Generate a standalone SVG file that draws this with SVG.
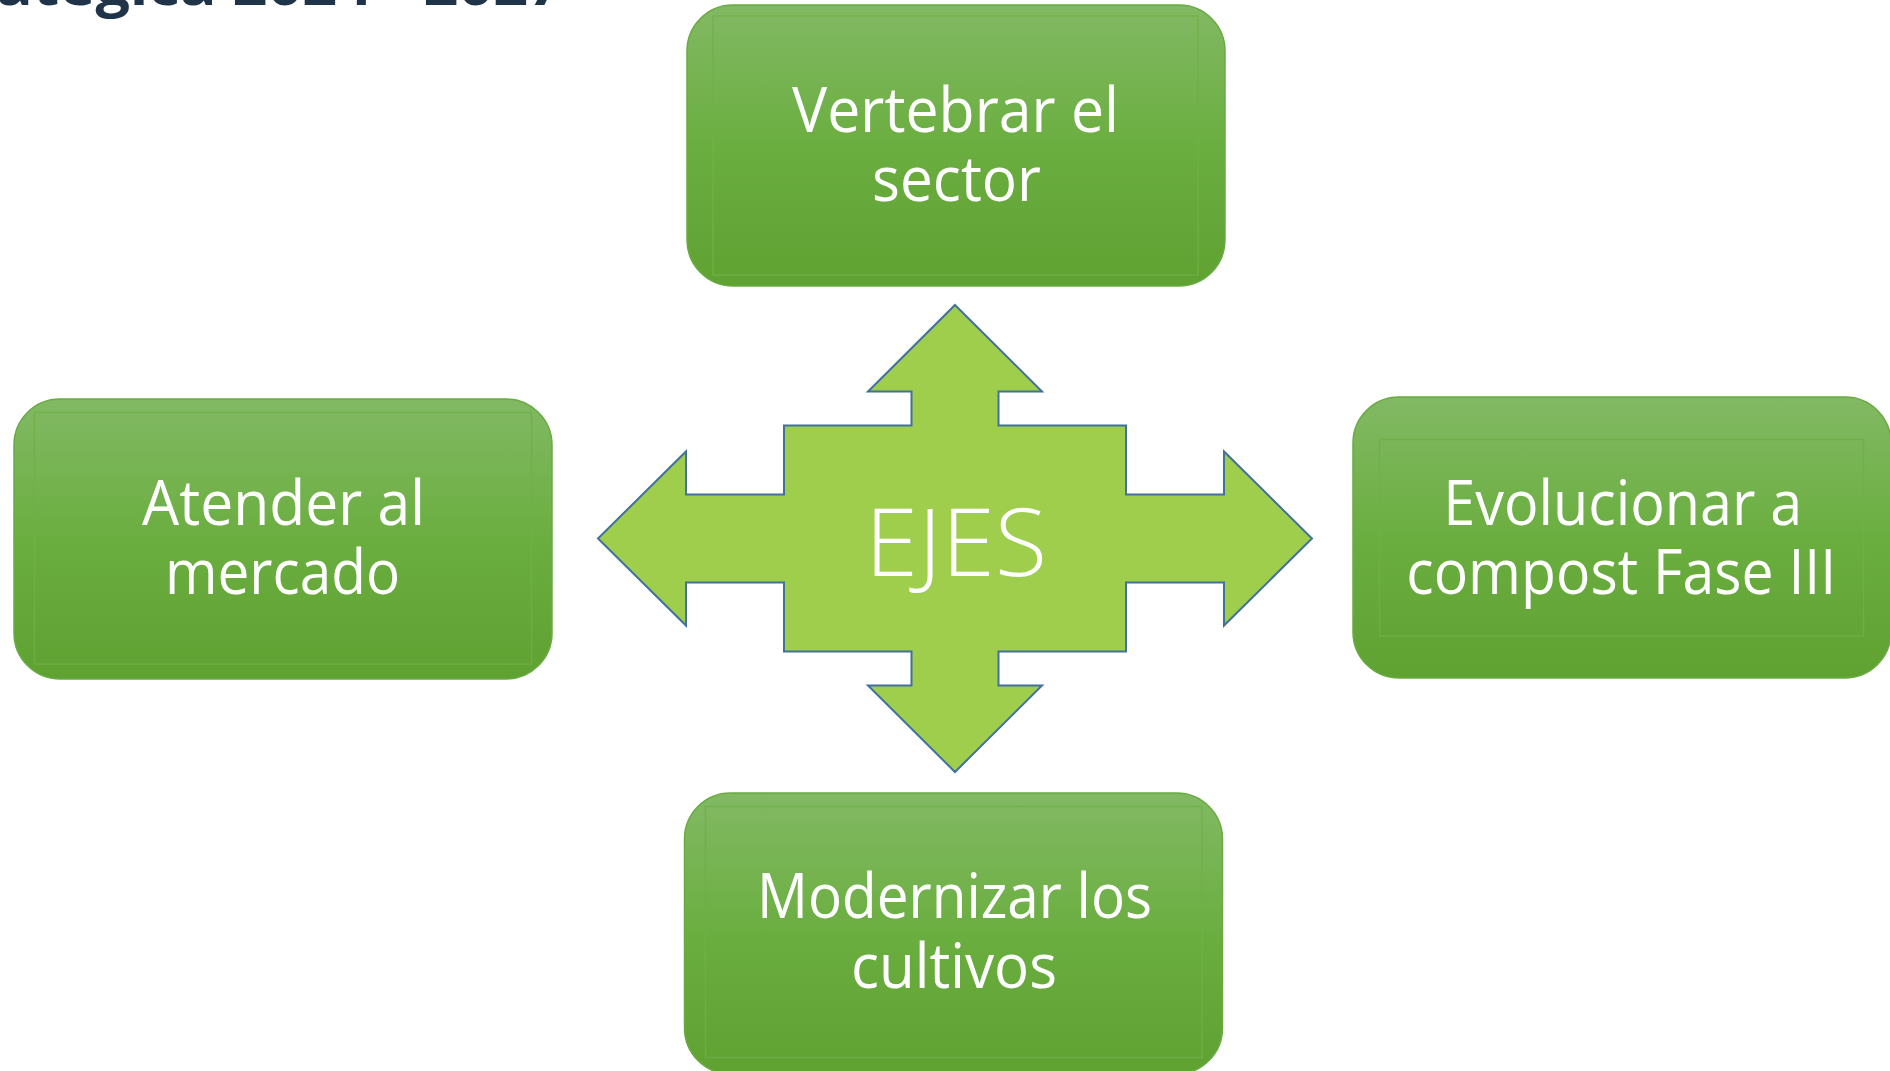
<svg xmlns="http://www.w3.org/2000/svg" width="1890" height="1071" viewBox="0 0 1890 1071">
<defs>
<linearGradient id="boxGrad" x1="0" y1="0" x2="0" y2="1">
<stop offset="0" stop-color="#82B964"/>
<stop offset="0.5" stop-color="#6BAE40"/>
<stop offset="1" stop-color="#5FA232"/>
</linearGradient>
<style>
.box{fill:url(#boxGrad);stroke:#68AB42;stroke-width:1.5}
.inner{fill:none;stroke:#6FB049;stroke-width:1.5;opacity:0.8}
.lbl{fill:#FFFFFF;font-family:"Open Sans","Noto Sans",sans-serif;font-weight:400;font-size:62px;text-anchor:middle}
.title{fill:#1F3449;font-family:"Open Sans","Noto Sans",sans-serif;font-weight:700;font-size:58px}
.arrow{fill:#9FCE4D;stroke:#41719C;stroke-width:2;stroke-linejoin:miter}
.ejes{fill:#FFFFFF;font-family:"Open Sans","Noto Sans",sans-serif;font-weight:300;font-size:94px;text-anchor:middle}
</style>
</defs>
<rect width="1890" height="1071" fill="#FFFFFF"/>
<g id="title">
<text class="title" x="-4" y="5" textLength="567" lengthAdjust="spacingAndGlyphs">ategica 2024 - 2027</text>
</g>
<g id="connectors"></g>
<g id="node-ejes">
<path class="arrow" d="M955 305 L1042 391.5 L998.5 391.5 L998.5 425.5 L1126 425.5 L1126 494.5 L1224 494.5 L1224 451.5 L1312 538.5 L1224 625.5 L1224 582.5 L1126 582.5 L1126 651.5 L998.5 651.5 L998.5 685.5 L1042 685.5 L955 772 L868 685.5 L911.5 685.5 L911.5 651.5 L784 651.5 L784 582.5 L686 582.5 L686 625.5 L598 538.5 L686 451.5 L686 494.5 L784 494.5 L784 425.5 L911.5 425.5 L911.5 391.5 L868 391.5 Z"/>
<text class="ejes" x="956" y="576" textLength="182" lengthAdjust="spacingAndGlyphs">EJES</text>
</g>
<g id="node-vertebrar">
<rect class="box" x="687" y="5" width="538" height="281" rx="46" ry="46"/>
<rect class="inner" x="713" y="16" width="485" height="259"/>
<text class="lbl" x="955.5" y="132" textLength="327" lengthAdjust="spacingAndGlyphs">Vertebrar el</text>
<text class="lbl" x="956.5" y="200.5" textLength="169" lengthAdjust="spacingAndGlyphs">sector</text>
</g>
<g id="node-atender">
<rect class="box" x="14" y="399" width="538" height="280" rx="46" ry="46"/>
<rect class="inner" x="34.5" y="412.5" width="497" height="251.5"/>
<text class="lbl" x="283.5" y="525" textLength="283" lengthAdjust="spacingAndGlyphs">Atender al</text>
<text class="lbl" x="282.5" y="593.5" textLength="235" lengthAdjust="spacingAndGlyphs">mercado</text>
</g>
<g id="node-evolucionar">
<rect class="box" x="1353" y="397" width="538" height="281" rx="46" ry="46"/>
<rect class="inner" x="1379.5" y="439.5" width="484" height="196.5"/>
<text class="lbl" x="1622.8" y="525" textLength="359" lengthAdjust="spacingAndGlyphs">Evolucionar a</text>
<text class="lbl" x="1621.3" y="593.5" textLength="430" lengthAdjust="spacingAndGlyphs">compost Fase III</text>
</g>
<g id="node-modernizar">
<rect class="box" x="684.5" y="793" width="538" height="281" rx="46" ry="46"/>
<rect class="inner" x="705.5" y="806.5" width="496.5" height="251"/>
<text class="lbl" x="954.5" y="918" textLength="395" lengthAdjust="spacingAndGlyphs">Modernizar los</text>
<text class="lbl" x="954" y="988" textLength="206" lengthAdjust="spacingAndGlyphs">cultivos</text>
</g>
</svg>
